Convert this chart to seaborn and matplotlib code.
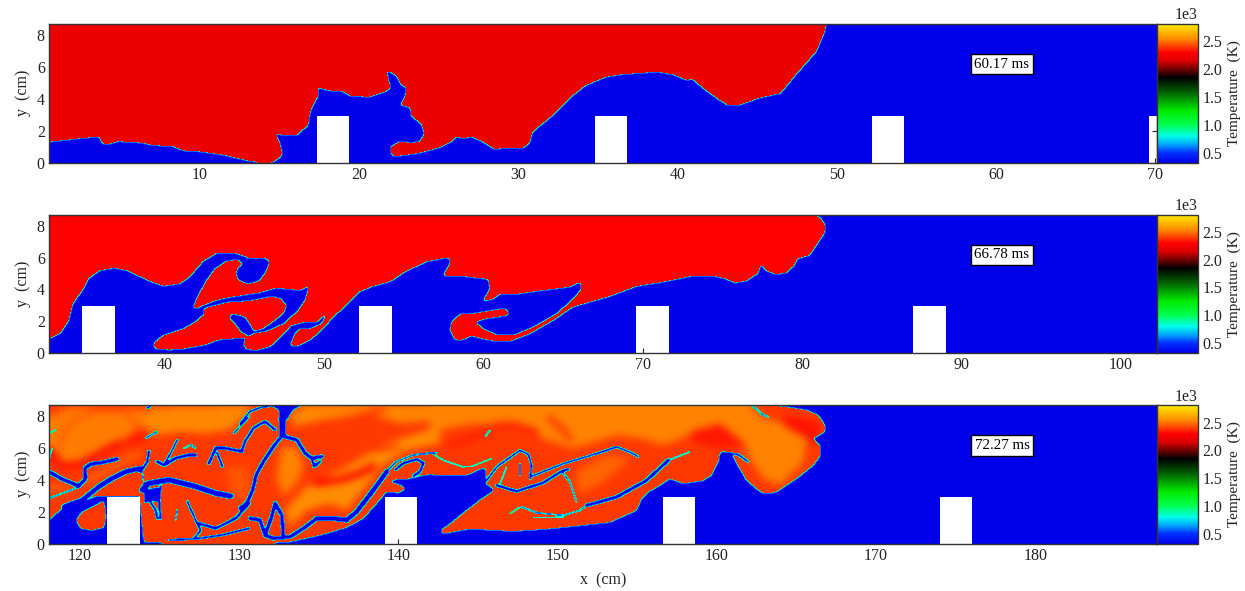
import matplotlib
matplotlib.use("Agg")
import matplotlib.pyplot as plt
from matplotlib.colors import LinearSegmentedColormap
from matplotlib.path import Path
from matplotlib import ticker
import seaborn as sns
import numpy as np
import pandas as pd

# temperature levels in K
T_COLD = 320.0
T_MAX = 2820.0
T_HOT_60 = 2215.0
T_HOT_66 = 2300.0
T_HOT_72 = 2400.0

cmap_values = [320, 500, 650, 800, 1000, 1250, 1600, 1850, 2000, 2150, 2300, 2550, 2820]
cmap_colors = ["#0000eb", "#0032ff", "#00aaff", "#00ffe6", "#00ff50", "#00eb00", "#005a00",
               "#000000", "#6e0000", "#dc0000", "#ff0000", "#ff8c00", "#fff000"]

temp_ticks = [500, 1000, 1500, 2000, 2500]
y_ticks = [0, 2, 4, 6, 8]
x_ticks_60 = [10, 20, 30, 40, 50, 60, 70]
x_ticks_66 = [40, 50, 60, 70, 80, 90, 100]
x_ticks_72 = [120, 130, 140, 150, 160, 170, 180]
times = ["60.17 ms", "66.78 ms", "72.27 ms"]

# left edge of each window (cm)
x_start_60 = 0.52
x_start_66 = 32.7
x_start_72 = 118.05

# obstacle left edges (cm)
block_width = 2.03
block_height = 2.92
blocks_60 = [17.35, 34.8, 52.2, 69.6]
blocks_66 = [34.8, 52.2, 69.6, 87.0]
blocks_72 = [121.72, 139.15, 156.6, 174.0]

# flame front at t=60.17 ms, hot gas is inside the outline
front_60 = [(0, 1.34), (0.6, 1.34), (3.66, 1.67), (3.86, 1.17), (4.4, 1.21), (4.9, 1.36), (6.4, 1.27),
            (6.9, 1.13), (8.3, 1.04), (8.9, 0.79), (10.1, 0.71), (11.4, 0.52), (12.9, 0.17), (13.9, 0.02),
            (14.6, 0.06), (15.1, 0.38), (15.15, 0.69), (15.0, 1.32), (14.7, 1.92), (15.1, 1.75), (16.1, 1.75),
            (16.8, 2.36), (16.9, 3.09), (17.1, 3.61), (17.4, 4.13), (17.4, 4.72), (18.1, 4.55), (18.9, 4.51),
            (19.45, 4.2), (20.7, 4.15), (21.7, 4.49), (22.0, 4.72), (21.8, 5.39), (21.75, 5.85), (22.4, 5.39),
            (22.65, 4.86), (23.0, 4.72), (22.9, 4.24), (22.6, 3.61), (23.2, 3.5), (23.3, 2.88), (23.9, 2.46),
            (24.1, 1.84), (23.8, 1.36), (23.3, 1.25), (22.55, 1.36), (21.95, 1.0), (22.05, 0.48), (22.3, 0.42),
            (23.8, 0.63), (25.05, 0.96), (25.9, 1.38), (26.2, 1.73), (26.35, 1.52), (27.05, 1.63), (27.7, 1.36),
            (28.4, 0.9), (30.3, 0.94), (30.7, 1.21), (30.9, 1.94), (32.3, 3.09), (33.3, 4.13), (34.25, 4.86),
            (35.5, 5.39), (36.4, 5.55), (37.5, 5.64), (38.7, 5.72), (39.7, 5.55), (40.6, 5.18), (40.9, 5.28),
            (41.5, 4.76), (42.5, 4.03), (43.1, 3.65), (44.0, 3.67), (45.2, 4.09), (46.5, 4.38), (47.5, 5.6),
            (48.7, 6.95), (49.2, 8.1), (49.35, 8.72), (49.35, 9), (0, 9)]

# flame front at t=66.78 ms
front_66 = [(32, 0.96), (32.85, 0.96), (33.4, 1.21), (33.9, 1.94), (34.2, 3.09), (34.8, 3.92), (35.2, 4.66),
            (35.9, 5.18), (36.8, 5.34), (37.6, 5.18), (38.9, 4.55), (39.9, 4.2), (40.93, 4.36), (41.56, 4.78),
            (42.4, 5.76), (43.23, 6.25), (44.28, 6.31), (45.33, 5.93), (46.27, 5.93), (46.58, 5.72), (46.27, 4.99),
            (45.85, 4.51), (45.22, 4.32), (44.59, 4.57), (44.45, 4.99), (44.59, 5.41), (44.9, 5.51), (44.59, 5.83),
            (43.86, 5.78), (43.13, 5.3), (42.6, 4.57), (42.08, 3.63), (41.72, 2.79), (42.08, 2.85), (43.23, 3.31),
            (44.17, 3.52), (45.95, 3.79), (47.0, 4.09), (48.47, 3.94), (49.05, 4.21), (48.78, 3.31), (48.36, 2.68),
            (47.42, 1.84), (46.37, 1.36), (45.53, 1.21), (45.07, 0.96), (44.95, 0.59), (45.01, 0.27), (45.64, 0.17),
            (46.58, 0.38), (47.31, 1.07), (47.94, 1.74), (48.78, 1.95), (49.51, 1.91), (50.25, 2.62), (49.83, 1.84),
            (49.09, 1.53), (48.47, 1.53), (48.15, 1.21), (47.84, 0.48), (48.26, 0.42), (49.09, 0.8), (49.83, 1.42),
            (50.56, 2.26), (51.4, 3.0), (51.6, 3.2), (52.17, 3.82), (53.04, 4.18), (54.16, 4.49), (55.03, 5.07),
            (56.5, 5.76), (57.64, 5.97), (57.99, 5.83), (57.47, 4.88), (57.68, 4.82), (58.72, 4.82), (60.3, 4.63),
            (60.4, 4.04), (59.92, 3.2), (60.61, 3.41), (61.13, 3.73), (62.28, 3.73), (63.75, 3.94), (65.42, 4.15),
            (66.05, 4.46), (66.16, 4.04), (65.63, 3.41), (64.59, 2.47), (63.12, 1.63), (61.86, 1.11), (60.92, 1.11),
            (60.08, 1.46), (59.46, 1.95), (60.19, 2.16), (61.55, 2.37), (61.59, 2.58), (61.34, 2.79), (60.61, 2.68),
            (59.35, 2.47), (58.51, 2.43), (57.99, 1.95), (57.89, 1.42), (58.2, 0.84), (58.72, 0.84), (59.25, 1.07),
            (60.4, 0.79), (61.66, 0.73), (62.91, 1.21), (64.38, 2.05), (65.63, 2.89), (66.47, 3.14), (67.94, 3.56),
            (69.61, 4.19), (71.29, 4.46), (73.17, 4.84), (74.43, 4.84), (75.16, 4.67), (75.79, 4.4), (76.52, 4.53),
            (77.25, 4.99), (77.42, 5.62), (77.67, 5.2), (78.3, 4.94), (79.03, 5.03), (79.56, 5.51), (79.66, 5.89),
            (80.5, 6.14), (80.92, 6.77), (81.4, 7.5), (81.48, 8.03), (81.13, 8.51), (80.6, 8.72), (80.6, 9), (32, 9)]

island_66 = [(39.25, 0.38), (39.33, 0.69), (39.88, 1.11), (41.12, 1.52), (41.86, 1.94), (42.48, 2.46), (42.39, 2.79),
             (43.86, 3.16), (45.33, 3.27), (46.58, 3.52), (47.21, 3.46), (47.63, 3.0), (47.42, 2.47), (46.9, 2.05),
             (46.16, 1.53), (45.53, 1.36), (45.43, 1.63), (45.01, 2.26), (44.28, 2.47), (43.96, 2.26), (44.38, 1.84),
             (44.8, 1.28), (45.28, 1.07), (44.9, 0.96), (43.44, 0.84), (42.39, 0.48), (41.14, 0.27), (40.3, 0.21),
             (39.5, 0.25)]

# flame front at t=72.27 ms
front_72 = [(117, 1.5), (118.05, 1.5), (119.0, 2.34), (120.14, 2.66), (121.0, 3.0), (121.7, 3.0), (123.75, 3.0),
            (123.87, 1.71), (124.02, 0.14), (126.43, 0.03), (131.3, 0.03), (133.19, 0.14), (135.08, 0.56),
            (136.75, 1.04), (137.8, 1.61), (138.63, 2.55), (139.26, 3.28), (140.0, 3.22), (140.48, 3.43), (140.1, 3.7),
            (139.37, 3.91), (139.89, 4.06), (140.83, 4.12), (141.57, 4.33), (141.98, 4.37), (143.03, 4.31),
            (144.28, 4.31), (145.44, 4.83), (145.54, 4.2), (145.44, 3.85), (146.06, 3.37), (145.23, 2.84),
            (144.28, 2.11), (143.24, 1.27), (142.65, 0.85), (142.78, 0.64), (144.49, 0.96), (147.22, 0.81),
            (149.31, 0.95), (151.4, 1.17), (153.29, 1.37), (154.96, 2.11), (155.28, 2.84), (155.7, 3.26), (156.43, 3.68),
            (157.06, 4.1), (157.9, 3.79), (159.15, 3.99), (159.67, 4.31), (160.09, 5.15), (160.2, 5.78), (160.93, 5.67),
            (161.25, 5.04), (161.87, 3.99), (162.6, 3.37), (162.92, 3.16), (163.76, 3.26), (165.01, 4.1), (166.06, 4.94),
            (166.52, 5.57), (166.48, 6.2), (166.06, 6.62), (166.79, 7.03), (166.79, 7.45), (166.38, 8.08), (165.64, 8.4),
            (164.18, 8.61), (162.92, 8.75), (162.9, 9), (117, 9)]

island_72 = [(119.73, 1.5), (120.14, 2.02), (121.09, 2.49), (121.5, 2.76), (121.61, 1.71), (121.5, 1.04), (120.77, 0.87),
             (120.04, 0.98)]

cold_patch_72 = [(124.02, 3.39), (124.96, 3.6), (124.96, 2.55), (124.44, 2.76), (124.12, 2.55), (124.02, 2.13)]
cold_top_72 = [(131.8, 8.8), (134.2, 8.8), (133.4, 8.42), (132.95, 7.7), (132.45, 7.7), (132.5, 8.4)]

# unburnt filaments: (centre line, width in cm)
filaments_72 = [
    ([(118.05, 4.54), (118.89, 4.06), (119.93, 3.64), (120.35, 4.12), (120.31, 4.75), (120.67, 5.02), (121.4, 5.11), (122.34, 5.34)], 0.27),
    ([(118.05, 2.87), (118.89, 3.18), (120.04, 3.6)], 0.1),
    ([(119.0, 2.34), (120.14, 2.76), (121.19, 3.6), (121.92, 4.06), (122.87, 4.54), (123.81, 4.75)], 0.34),
    ([(123.91, 3.39), (124.33, 3.81), (125.59, 4.02), (127.26, 3.6), (128.52, 3.18), (129.46, 3.01)], 0.38),
    ([(125.06, 3.6), (124.96, 2.76), (125.06, 1.6)], 0.18),
    ([(124.33, 2.76), (124.75, 2.13), (124.85, 1.6)], 0.18),
    ([(124.85, 5.17), (125.27, 4.96), (126.0, 5.38), (126.84, 5.59), (127.26, 5.59)], 0.24),
    ([(125.27, 4.96), (125.69, 5.7), (126.11, 6.53)], 0.16),
    ([(126.53, 6.01), (126.95, 6.22), (127.26, 6.01)], 0.1),
    ([(128.1, 5.07), (128.52, 6.01), (129.15, 6.01), (130.2, 5.8)], 0.22),
    ([(128.62, 5.7), (128.94, 4.86)], 0.18),
    ([(124.23, 8.53), (124.44, 8.67)], 0.16),
    ([(124.12, 6.64), (124.85, 7.06)], 0.12),
    ([(118.05, 6.95), (118.47, 7.16)], 0.1),
    ([(118.05, 5.28), (118.26, 6.01)], 0.08),
    ([(123.81, 4.54), (124.23, 5.17), (124.33, 5.8)], 0.2),
    ([(123.91, 4.54), (124.02, 3.7)], 0.1),
    ([(126.74, 2.66), (127.26, 1.5), (127.58, 0.87), (127.26, 0.45)], 0.16),
    ([(127.47, 1.29), (128.52, 0.98), (129.78, 1.61), (130.61, 2.55)], 0.22),
    ([(125.59, 0.24), (127.47, 0.35), (128.94, 0.56), (130.61, 0.98)], 0.16),
    ([(126.0, 1.5), (126.11, 2.13)], 0.1),
    ([(132.73, 7.9), (132.73, 6.85)], 0.42),
    ([(132.73, 6.85), (132.14, 6.11), (131.52, 5.17), (131.06, 4.33), (130.85, 3.39), (130.47, 2.55), (130.05, 2.24)], 0.26),
    ([(132.77, 6.74), (133.61, 6.53), (134.13, 5.7), (134.55, 5.38), (135.18, 5.49)], 0.26),
    ([(134.55, 5.38), (134.7, 4.86), (135.08, 5.17)], 0.2),
    ([(130.05, 7.54), (130.68, 8.32), (131.52, 8.63), (132.98, 8.67)], 0.15),
    ([(130.15, 5.8), (130.36, 6.43), (130.89, 7.27), (131.62, 7.69), (132.25, 7.16)], 0.2),
    ([(132.14, 8.67), (136.33, 8.67)], 0.08),
    ([(134.87, 1.6), (135.91, 1.6), (136.75, 1.5), (137.38, 2.03), (138.11, 2.97), (138.74, 3.81), (139.26, 4.54)], 0.33),
    ([(134.87, 1.6), (134.03, 0.98), (133.19, 0.45), (132.14, 0.35), (131.62, 0.56), (131.31, 1.5), (130.68, 1.61)], 0.27),
    ([(131.62, 0.56), (132.04, 1.71), (132.25, 2.55), (132.67, 1.82), (132.77, 0.56)], 0.27),
    ([(139.26, 4.54), (139.89, 5.17), (140.94, 5.59), (142.4, 5.74)], 0.12),
    ([(139.79, 4.65), (140.31, 5.07), (141.15, 5.32), (141.57, 5.07), (141.36, 4.54), (140.94, 4.27)], 0.2),
    ([(129.67, 6.95), (130.61, 8.0)], 0.12),
    ([(146.17, 3.68), (147.42, 3.3), (149.1, 3.85), (150.25, 4.56), (150.67, 4.69)], 0.2),
    ([(145.54, 3.99), (146.17, 4.83), (147.63, 5.88), (148.16, 5.61), (148.37, 4.94), (148.26, 4.1)], 0.15),
    ([(148.26, 4.2), (150.36, 5.04), (152.45, 5.67), (153.71, 6.09), (154.75, 5.67), (155.07, 5.46)], 0.14),
    ([(150.25, 4.56), (150.78, 3.89), (151.19, 2.63)], 0.1),
    ([(147.01, 1.9), (147.63, 2.32)], 0.08),
    ([(147.74, 2.32), (148.68, 1.96), (150.36, 1.79), (151.4, 2.11), (151.82, 2.42)], 0.1),
    ([(148.47, 1.69), (150.36, 1.69)], 0.06),
    ([(151.82, 2.42), (153.71, 2.95), (155.59, 3.99), (156.95, 5.25)], 0.24),
    ([(156.95, 5.25), (158.31, 5.78)], 0.08),
    ([(145.44, 6.72), (145.75, 7.14)], 0.08),
    ([(141.98, 5.78), (142.82, 5.25), (144.07, 4.83), (144.7, 4.9), (145.85, 5.36)], 0.07),
    ([(162.19, 8.71), (162.92, 8.08), (163.23, 7.98)], 0.1),
    ([(160.41, 5.73), (161.35, 5.61), (161.98, 5.15)], 0.15),
    ([(146.8, 4.83), (146.38, 3.78)], 0.08),
    ([(147.63, 5.04), (147.63, 4.31)], 0.08),
]

# burnt gas temperature patches: (outline, K)
patches_72 = [
    ([(118.05, 8.0), (119.3, 8.53), (124.12, 8.42), (124.33, 7.79), (123.49, 6.95), (122.24, 6.11), (120.35, 5.17), (119.1, 4.86), (118.05, 6.11)], 2520),
    ([(124.33, 8.53), (130.61, 8.67), (130.61, 8.11), (129.36, 7.16), (127.89, 6.95), (126.42, 7.06), (124.75, 6.85), (124.02, 7.37)], 2540),
    ([(133.19, 8.21), (134.24, 8.67), (142.61, 8.67), (142.61, 7.79), (140.1, 7.58), (138.0, 8.21), (135.3, 7.79), (133.4, 7.37)], 2540),
    ([(142.61, 7.37), (142.61, 6.33), (140.52, 5.9), (139.05, 4.96), (137.8, 3.39), (136.75, 2.13), (135.7, 2.55), (134.24, 2.13), (133.19, 1.08), (132.88, 2.13), (134.24, 3.6), (136.75, 4.86), (139.26, 6.33)], 2550),
    ([(132.67, 6.11), (133.61, 6.11), (134.03, 4.86), (133.61, 3.81), (132.77, 2.97), (132.35, 4.23)], 2530),
    ([(129.15, 4.86), (130.61, 4.86), (130.61, 2.55), (129.5, 3.2)], 2450),
    ([(141.98, 8.71), (162.08, 8.71), (162.92, 7.87), (165.01, 7.45), (165.64, 6.62), (165.43, 5.15), (163.97, 3.68), (162.92, 4.1), (162.09, 5.36), (161.67, 6.2), (158.73, 7.03), (156.64, 6.2), (155.38, 6.61), (153.71, 6.82), (150.99, 5.99), (149.1, 6.61), (147.42, 7.45), (144.7, 7.56), (141.98, 7.03)], 2530),
    ([(151.19, 4.52), (153.08, 5.57), (154.54, 5.36), (152.87, 3.89), (151.4, 3.16)], 2480),
    ([(164.18, 8.08), (166.48, 7.66), (166.48, 6.2), (165.64, 6.62), (164.18, 7.45)], 2330),
    ([(158.31, 7.03), (160.2, 7.56), (161.87, 6.2), (160.2, 5.99), (158.52, 6.4)], 2340),
]

# burnt gas streaks: (centre line, width in cm, K)
streaks_72 = [
    ([(118.05, 5.9), (118.89, 4.86), (120.14, 5.07), (122.24, 6.22), (123.91, 6.74)], 0.45, 2320),
    ([(134.87, 3.81), (136.33, 4.02), (137.59, 4.44), (138.43, 4.86)], 0.45, 2310),
    ([(133.19, 7.16), (135.3, 7.37), (137.38, 8.0), (139.05, 8.42)], 0.35, 2400),
    ([(133.61, 6.33), (135.91, 6.33), (138.43, 5.9), (139.89, 6.11)], 0.35, 2400),
    ([(118.68, 6.11), (119.3, 7.58), (120.77, 8.32), (122.87, 8.32), (123.6, 7.37), (122.66, 6.32)], 0.2, 2430),
    ([(120.46, 3.91), (121.82, 4.75), (123.7, 5.7)], 0.3, 2500),
    ([(118.05, 3.5), (119.3, 3.5)], 0.3, 2480),
    ([(146.17, 7.45), (147.42, 7.45), (148.68, 7.03)], 0.35, 2350),
    ([(143.24, 6.2), (144.49, 6.61), (145.75, 7.03)], 0.4, 2350),
    ([(149.52, 7.87), (150.25, 7.24), (150.78, 6.62)], 0.4, 2400),
]

DX = 1 / 15.92
NX = 1108
NY = 139


def poly_mask(X, Y, outline):
    pts = np.column_stack([X.ravel(), Y.ravel()])
    return Path(outline).contains_points(pts).reshape(X.shape)


def stroke_mask(X, Y, line, width):
    # cells closer than width/2 to the polyline
    out = np.zeros(X.shape, dtype=bool)
    for (x0, y0), (x1, y1) in zip(line[:-1], line[1:]):
        dx, dy = x1 - x0, y1 - y0
        t = np.clip(((X - x0) * dx + (Y - y0) * dy) / (dx * dx + dy * dy), 0, 1)
        out |= np.hypot(X - x0 - t * dx, Y - y0 - t * dy) < width / 2
    return out


def smooth(A, passes):
    # small binomial blur, rows and columns, edges kept
    A = A.astype(float)
    for _ in range(passes):
        A = np.pad(A, 1, mode="edge")
        A = 0.25 * A[:-2, 1:-1] + 0.5 * A[1:-1, 1:-1] + 0.25 * A[2:, 1:-1]
        A = np.pad(A, ((0, 0), (1, 1)), mode="edge")
        A = 0.25 * A[:, :-2] + 0.5 * A[:, 1:-1] + 0.25 * A[:, 2:]
    return A


def build_field(x_start, hot_parts, t_hot, blocks, cold_parts=(), filaments=(), patches=(), streaks=()):
    x = x_start + (np.arange(NX) + 0.5) * DX
    y = (NY - np.arange(NY) - 0.5) * 8.72 / NY  # row 0 on top
    X, Y = np.meshgrid(x, y)

    hot = np.zeros(X.shape, dtype=bool)
    for outline in hot_parts:
        hot |= poly_mask(X, Y, outline)
    for outline in cold_parts:
        hot &= ~poly_mask(X, Y, outline)
    # round off the outline corners, filaments stay sharp
    hot = smooth(hot, 4) > 0.5
    for line, width in filaments:
        hot &= ~stroke_mask(X, Y, line, width)

    level = np.full(X.shape, t_hot)
    for outline, value in patches:
        level[poly_mask(X, Y, outline)] = value
    for line, width, value in streaks:
        level[stroke_mask(X, Y, line, width)] = value
    level = smooth(level, 30)

    # thin reaction zone: the front only reaches cyan/green before the hot gas
    frac = smooth(hot, 1)
    frac = np.where(frac > 0.7, 1.0, frac * 0.5)
    field = T_COLD + (level - T_COLD) * frac

    solid = np.zeros(X.shape, dtype=bool)
    for left in blocks:
        solid |= (X >= left) & (X <= left + block_width) & (Y <= block_height)
    return pd.DataFrame(field, index=y, columns=x), solid


sns.set_style("white")
plt.rcParams["font.family"] = ["Liberation Serif", "DejaVu Serif"]
plt.rcParams["font.size"] = 11.5

stops = [(v - T_COLD) / (T_MAX - T_COLD) for v in cmap_values]
temp_cmap = LinearSegmentedColormap.from_list("flame", list(zip(stops, cmap_colors)), N=512)

W, H = 1245.0, 591.0
fig = plt.figure(figsize=(W / 100, H / 100), dpi=100)

panels = [
    (23.5, 162.7, x_start_60, x_ticks_60, times[0],
     build_field(x_start_60, [front_60], T_HOT_60, blocks_60)),
    (214.5, 352.7, x_start_66, x_ticks_66, times[1],
     build_field(x_start_66, [front_66, island_66], T_HOT_66, blocks_66)),
    (405.0, 543.5, x_start_72, x_ticks_72, times[2],
     build_field(x_start_72, [front_72, island_72], T_HOT_72, blocks_72, [cold_patch_72, cold_top_72],
                 filaments_72, patches_72, streaks_72)),
]

for i, (top, bottom, x0, x_ticks, label, (df, solid)) in enumerate(panels):
    ax = fig.add_axes([49 / W, 1 - bottom / H, 1108 / W, (bottom - top) / H])
    cax = fig.add_axes([1157 / W, 1 - bottom / H, 41 / W, (bottom - top) / H])
    sns.heatmap(df, ax=ax, cbar_ax=cax, cmap=temp_cmap, vmin=T_COLD, vmax=T_MAX, mask=solid,
                xticklabels=False, yticklabels=False, cbar_kws={"ticks": temp_ticks})

    ax.set_xticks([(v - x0) / DX for v in x_ticks])
    ax.set_xticklabels([str(v) for v in x_ticks], rotation=0)
    ax.set_yticks([(8.72 - v) * NY / 8.72 for v in y_ticks])
    ax.set_yticklabels([str(v) for v in y_ticks], rotation=0)
    ax.tick_params(direction="in", length=3.5, width=0.8, color="#222222", top=True, right=True,
                   bottom=True, left=True, labelcolor="#222222", pad=3)
    for side in ax.spines.values():
        side.set_visible(True)
        side.set_color("#333333")
        side.set_linewidth(1.0)
    ax.set_ylabel("y  (cm)", labelpad=4, color="#222222")
    ax.set_xlabel("x  (cm)" if i == 2 else "", labelpad=6, color="#222222")

    ax.text((60.38 - x_start_60) / DX, (8.72 - 6.17) * NY / 8.72, label, ha="center", va="center",
            fontsize=10.8, color="black",
            bbox=dict(boxstyle="square,pad=0.25", fc="white", ec="black", lw=1.0))

    cb = ax.collections[0].colorbar
    fmt = ticker.ScalarFormatter()
    fmt.set_powerlimits((0, 0))
    cb.formatter = fmt
    cb.update_ticks()
    cb.outline.set_visible(True)
    cb.outline.set_linewidth(1.0)
    cb.outline.set_edgecolor("#333333")
    cb.ax.tick_params(direction="in", length=3.5, width=0.8, color="#222222", labelcolor="#222222", pad=3)
    cb.ax.yaxis.get_offset_text().set_fontsize(11.5)
    cb.set_label("Temperature  (K)", labelpad=4, fontsize=11, color="#222222")

fig.savefig("out.png", dpi=100)
